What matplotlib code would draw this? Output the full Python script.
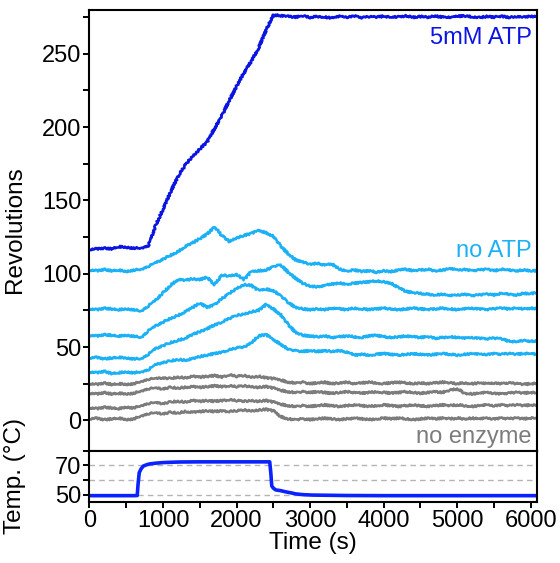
import numpy as np
import matplotlib
matplotlib.use("Agg")
import matplotlib.pyplot as plt
from matplotlib.ticker import MultipleLocator

plt.rcParams['font.family'] = ['Liberation Sans', 'DejaVu Sans']

# time grid for the rotation traces (s)
time_s = np.arange(0, 6101, 100)

# cumulative revolutions, 5 mM ATP
atp_5mM = [116.5, 117, 117.5, 117, 118.5, 118, 117.5, 117.5, 119, 133,
           144, 155.5, 166, 174, 180, 185, 190, 199, 208, 218,
           228, 237, 245, 254, 266, 276.5, 276, 275.5, 275, 275.8,
           274.8, 275.5, 275, 274.5, 275.5, 275, 275.8, 274.6, 275.2, 275,
           275.6, 274.8, 275.3, 275.8, 274.9, 275.4, 275, 275.6, 275.1, 274.7,
           275.5, 275.9, 275.2, 274.8, 275.4, 275, 275.6, 274.9, 275.3, 275,
           275.5, 275.2]

# no ATP traces
no_atp_a = [102.5, 102, 103, 102, 102.5, 101.5, 102.5, 103, 105, 107.5,
            110, 112.5, 115, 118.5, 121, 124, 127, 132, 126, 122,
            124.5, 126, 127.5, 129.5, 128, 125.5, 119, 113.5, 109.5, 108,
            106.5, 107, 106, 106.5, 103, 102, 102.5, 101.5, 102, 101,
            102, 101.5, 102.5, 103, 102, 102.5, 103, 102, 102.5, 103.5,
            102.5, 103, 102, 102.5, 103, 102, 103, 102.5, 102, 102.5,
            102, 102]
no_atp_b = [76, 75.5, 76.5, 76, 75.5, 76, 75.5, 74.5, 78, 82,
            87, 92, 96, 95.5, 96.5, 96, 97.5, 92.5, 99, 98.5,
            99.5, 96, 101.5, 102, 102.5, 105, 106, 101, 97, 93.5,
            91.5, 91, 92, 93, 93.5, 93, 93.5, 94, 94.5, 95,
            94.5, 93.5, 90.5, 88, 87, 86.5, 86, 85.5, 86, 85,
            85.5, 86, 85, 85.5, 86, 85.5, 86.5, 86, 85.5, 86.5,
            86.5, 87]
no_atp_c = [58, 57.5, 58.5, 58, 57.5, 58, 57.5, 56.5, 61, 64.5,
            67, 69.5, 71.5, 74, 77, 80, 77, 79, 83, 86.5,
            90, 92.5, 92, 88.5, 89.5, 88.5, 85, 80.5, 77, 76,
            75.5, 76, 75.5, 76.5, 76, 75.5, 76.5, 76, 75.5, 76,
            76.5, 76, 75.5, 76, 76.5, 76, 75.5, 76, 76.5, 76,
            75.5, 76, 76.5, 76, 75.5, 76, 76.5, 76, 76.5, 76,
            76.5, 76]
no_atp_d = [42.5, 43, 42, 42.5, 43, 42.5, 42, 42, 45, 49,
            51, 53, 54.5, 56, 58.5, 60.5, 62.5, 65, 67, 69.5,
            71.5, 72.5, 74, 75, 79, 76, 72, 65.5, 60, 58,
            57.5, 57, 57.5, 56.5, 57, 57.5, 57, 56.5, 57.5, 58,
            57, 56.5, 57, 57.5, 57, 56.5, 57, 56, 56.5, 57,
            56.5, 56, 56.5, 56, 55.5, 56, 55.5, 54, 53.5, 54.5,
            54, 54]
no_atp_e = [33, 32.5, 33.5, 32, 32.5, 33, 32.5, 33, 34.5, 38,
            39.5, 40.5, 41.5, 41, 42, 43.5, 44.5, 45.5, 46.5, 48,
            49.5, 50, 53, 57.5, 58.5, 55, 52, 48.5, 47.5, 47,
            47.5, 47, 47.5, 47, 47.5, 46.5, 44.5, 45, 44.5, 45,
            45.5, 45, 44.5, 45, 45.5, 45, 44.5, 45, 45.5, 45,
            44.5, 45, 45.5, 45, 45, 45.5, 45, 45.5, 45, 45.5,
            45.5, 45]

# no enzyme traces
no_enz_a = [25, 24.5, 25.5, 24.5, 25, 24.5, 25, 26.5, 28, 28.5,
            29, 28.5, 29.5, 29, 30, 29.5, 30, 30.5, 29.5, 31,
            30, 30.5, 29.5, 30, 29, 28.5, 27.5, 26, 25.5, 26,
            25, 25.5, 26, 25, 25.5, 26, 25, 25.5, 26, 25.5,
            25, 25.5, 26, 25.5, 25, 25.5, 25, 25.5, 26, 25.5,
            25, 25.5, 25, 25.5, 25, 25.5, 25, 25.5, 25, 24.5,
            25, 25]
no_enz_b = [18.5, 18, 19, 18, 18.5, 18, 18.5, 20, 21.5, 22,
            21.5, 22.5, 22, 22.5, 23, 22.5, 23, 23.5, 23, 23.5,
            23, 23.5, 23, 22.5, 23, 22, 20.5, 19.5, 19, 19.5,
            19, 19.5, 19, 18.5, 19, 19.5, 19, 18.5, 19, 19.5,
            19, 18.5, 19, 19.5, 19, 18.5, 19, 19.5, 19, 20.5,
            21.5, 18.5, 18, 18.5, 19, 18.5, 18, 18.5, 19, 18.5,
            19, 18.5]
no_enz_c = [8.5, 8, 9, 8.5, 8, 9, 8.5, 10, 11.5, 12,
            11.5, 12.5, 13, 12.5, 13.5, 13, 13.5, 13, 13.5, 14,
            13.5, 13, 13.5, 13, 13.5, 12.5, 11, 10, 9.5, 10,
            9.5, 10, 10.5, 10, 9.5, 10, 10.5, 10, 9.5, 10,
            10.5, 10, 9.5, 10, 10.5, 10, 9.5, 10, 10.5, 10,
            10.5, 10, 9.5, 10, 10.5, 10, 10.5, 10, 10.5, 10,
            10.5, 10]
no_enz_d = [1, 1.5, 0.5, 1, 1.5, 0.5, 1, 3, 4.5, 5,
            4.5, 5.5, 5, 6, 5.5, 6, 6.5, 6, 6.5, 6,
            6.5, 7, 6.5, 7, 7.5, 6.5, 2.5, 1, 0.5, 1,
            0.5, 1, 1.5, 1, 0.5, 1, 1.5, 1, 0.5, 1,
            1.5, 1, 1.5, 1, 0.5, 1, 1.5, 1, 1.5, 1,
            1.5, 1, 1.5, 1, 1.5, 1, 1.5, 1, 1.5, 1,
            1.5, 1.5]

# temperature profile
temp_time = [0, 600, 649, 660, 676, 700, 730, 780, 820, 900, 1000, 1100, 1225,
             1500, 2000, 2450, 2465, 2478, 2500, 2532, 2600, 2667, 2750, 2802,
             2900, 3027, 3500, 4000, 5000, 6100]
temp_C = [49.4, 49.4, 49.5, 57, 65, 67.5, 69.5, 70.5, 71, 71.5, 71.9, 72.1, 72.3,
          72.4, 72.4, 72.4, 65, 56, 54.5, 53.3, 52.8, 52, 51.2, 50.6,
          50.1, 49.8, 49.5, 49.4, 49.4, 49.4]

DARK_BLUE = '#0c14e2'
LIGHT_BLUE = '#1cb1f7'
GRAY = '#7c7c7c'
TEMP_BLUE = '#0a22ff'

FS_TICK = 17
FS_LABEL = 17.5

fig = plt.figure(figsize=(5.6, 5.63), dpi=100)
ax = fig.add_axes([0.1598, 0.1995, 0.7986, 0.7836])
axt = fig.add_axes([0.1598, 0.1089, 0.7986, 0.0906], sharex=ax)

lw = 1.9
traces = []
for tr in (no_enz_a, no_enz_b, no_enz_c, no_enz_d):
    traces += ax.plot(time_s, tr, color=GRAY, lw=lw)
for tr in (no_atp_a, no_atp_b, no_atp_c, no_atp_d, no_atp_e):
    traces += ax.plot(time_s, tr, color=LIGHT_BLUE, lw=lw)
traces += ax.plot(time_s, atp_5mM, color=DARK_BLUE, lw=lw)
# slightly ragged stroke, like a raw tracking signal
for ln in traces:
    ln.set_sketch_params(scale=0.9, length=3.0, randomness=2.0)

ax.set_xlim(0, 6080)
ax.set_ylim(-20.7, 280.2)
ax.yaxis.set_major_locator(MultipleLocator(50))
ax.yaxis.set_minor_locator(MultipleLocator(25))
ax.xaxis.set_major_locator(MultipleLocator(1000))
ax.xaxis.set_minor_locator(MultipleLocator(500))
ax.tick_params(axis='both', which='both', direction='out', width=1.4, length=4.5,
               labelsize=FS_TICK, pad=1.5)
ax.tick_params(axis='x', labelbottom=False)
ax.set_ylabel('Revolutions', fontsize=FS_LABEL)
ax.yaxis.set_label_coords(-0.142, 0.5)

ax.text(0.9886, 256.4, '5mM ATP', color=DARK_BLUE, fontsize=FS_TICK, ha='right',
        va='baseline', transform=ax.get_yaxis_transform())
ax.text(0.9886, 111.6, 'no ATP', color=LIGHT_BLUE, fontsize=FS_TICK, ha='right',
        va='baseline', transform=ax.get_yaxis_transform())
ax.text(0.9886, -15.3, 'no enzyme', color=GRAY, fontsize=FS_TICK, ha='right',
        va='baseline', transform=ax.get_yaxis_transform())

# temperature panel
for g in (50, 60, 70):
    axt.axhline(g, color='#b4b4b4', lw=1.0, ls=(0, (4, 3)), zorder=0)
axt.plot(temp_time, temp_C, color=TEMP_BLUE, lw=2.6)
axt.set_ylim(45.3, 80)
axt.set_yticks([50, 70])
axt.yaxis.set_minor_locator(MultipleLocator(10))
axt.tick_params(axis='both', which='both', direction='out', width=1.4, length=4.5,
                labelsize=FS_TICK, pad=1.5)
axt.set_xlabel('Time (s)', fontsize=FS_LABEL, labelpad=0)
axt.set_ylabel('Temp. (°C)', fontsize=FS_LABEL)
axt.yaxis.set_label_coords(-0.142, 0.5)

for a in (ax, axt):
    for s in a.spines.values():
        s.set_linewidth(1.5)

fig.savefig('out.png', dpi=100)
